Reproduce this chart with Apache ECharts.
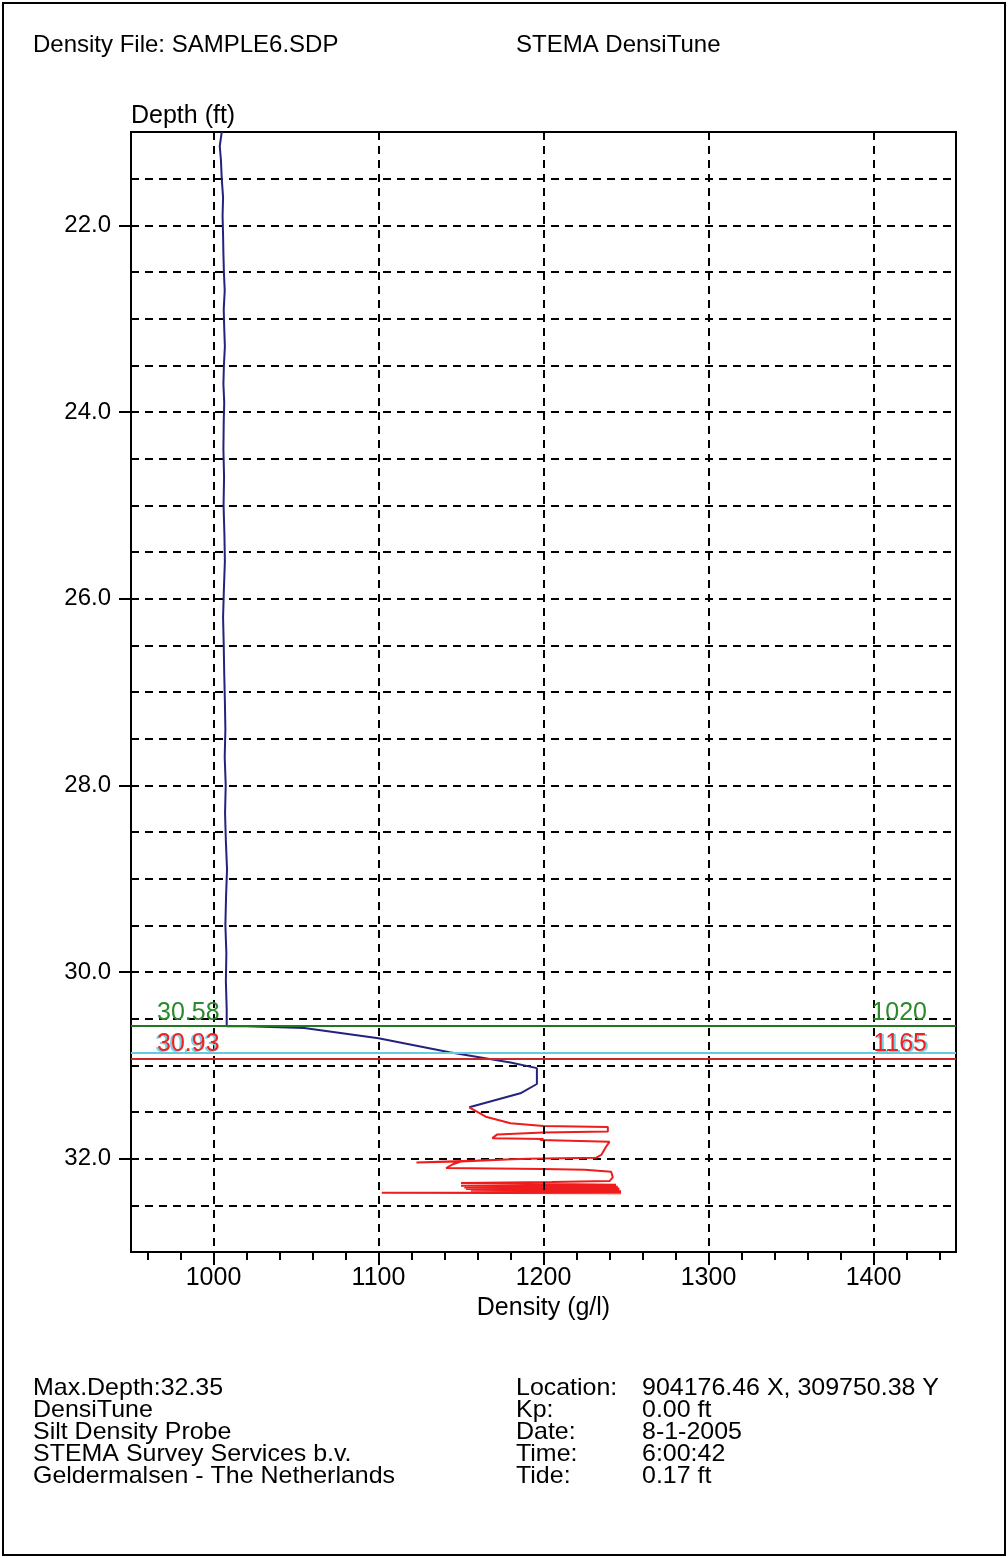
<!DOCTYPE html>
<html>
<head>
<meta charset="utf-8">
<script src="https://cdn.jsdelivr.net/npm/echarts@6/dist/echarts.min.js"></script>
<style>
  html, body { margin: 0; padding: 0; background: #fff; }
  #chart { width: 1008px; height: 1558px; }
</style>
</head>
<body>
<div id="chart"></div>
<script>
// profile above the silt (blue)
var depthTop = [21.0, 21.15, 21.3, 21.5, 21.7, 21.9, 22.1, 22.3, 22.5, 22.7, 22.9, 23.1, 23.3, 23.5, 23.7, 23.9,
  24.1, 24.4, 24.7, 25.0, 25.3, 25.6, 25.9, 26.2, 26.5, 26.8, 27.1, 27.4, 27.7, 28.0, 28.3, 28.6, 28.9,
  29.2, 29.5, 29.8, 30.1, 30.4, 30.58, 30.58, 30.6, 30.71, 30.86, 30.97, 31.03, 31.2, 31.3, 31.45];
var densityTop = [1005, 1003.8, 1004.5, 1005, 1005.8, 1005.5, 1005.8, 1006, 1006.3, 1006.8, 1006.2, 1006.5, 1006.9, 1006.3, 1006, 1006.5,
  1006.2, 1006, 1006.4, 1006.1, 1006.6, 1006.9, 1006.3, 1005.8, 1006.2, 1006.5, 1006.9, 1007.2, 1006.8, 1007.4, 1007, 1007.5, 1008.2,
  1007.6, 1007.2, 1007.8, 1007.5, 1008, 1008, 1020, 1055, 1100, 1143, 1180, 1196, 1196, 1186, 1155];

// profile in the silt layer (red)
var depthSilt = [31.45, 31.55, 31.62, 31.65, 31.66, 31.71, 31.72, 31.74, 31.78, 31.79, 31.8, 31.82, 31.87, 31.96, 31.99,
  32.0, 32.02, 32.04, 32.03, 32.01, 32.03, 32.06, 32.1, 32.11, 32.12, 32.14, 32.2, 32.24, 32.25, 32.26,
  32.28, 32.29, 32.3, 32.31, 32.32, 32.325, 32.335, 32.34, 32.35, 32.355, 32.36, 32.365, 32.37];
var densitySilt = [1155, 1165, 1180, 1200, 1239, 1239, 1200, 1172, 1169, 1200, 1198, 1240, 1238, 1235, 1232,
  1190, 1160, 1123, 1150, 1178, 1150, 1145, 1141, 1200, 1225, 1241, 1242, 1240, 1205, 1150,
  1244, 1150, 1245, 1152, 1246, 1153, 1246, 1156, 1247, 1160, 1247, 1102, 1247];

// marker levels
var levelTop = 30.58, levelTopDensity = "1020";
var levelCyan = 30.87;
var levelSilt = 30.93, levelSiltDensity = "1165";

var depthTicks = [22, 24, 26, 28, 30, 32];
var densityTicks = [1000, 1100, 1200, 1300, 1400];
var densityMinorTicks = [960, 980, 1000, 1020, 1040, 1060, 1080, 1100, 1120, 1140, 1160, 1180, 1200,
  1220, 1240, 1260, 1280, 1300, 1320, 1340, 1360, 1380, 1400, 1420, 1440];

var footLeft = ["Max.Depth:32.35", "DensiTune", "Silt Density Probe", "STEMA Survey Services b.v.", "Geldermalsen - The Netherlands"];
var footKeys = ["Location:", "Kp:", "Date:", "Time:", "Tide:"];
var footVals = ["904176.46 X, 309750.38 Y", "0.00 ft", "8-1-2005", "6:00:42", "0.17 ft"];

var FONT = "'Liberation Sans', Arial, sans-serif";

function zip(xs, ys) {
  var out = [];
  for (var i = 0; i < xs.length; i++) out.push([xs[i], ys[i]]);
  return out;
}

function txt(text, x, y, size, sx) {
  return {
    type: "text", x: x, y: y, scaleX: sx || 1,
    style: { text: text, fontSize: size, fontFamily: FONT, fill: "#000", textVerticalAlign: "middle" }
  };
}

var graphics = [
  { type: "rect", shape: { x: 3, y: 3, width: 1002, height: 1552 },
    style: { fill: "none", stroke: "#000", lineWidth: 2 } },
  txt("Density File: SAMPLE6.SDP", 33, 45, 24, 1.0),
  txt("STEMA DensiTune", 516, 45, 24, 1.0)
];
for (var i = 0; i < footLeft.length; i++) {
  var yy = 1388 + i * 22;
  graphics.push(txt(footLeft[i], 33, yy, 24, 1.04));
  graphics.push(txt(footKeys[i], 516, yy, 24, 1.04));
  graphics.push(txt(footVals[i], 642, yy, 24, 1.04));
}

var myChart = echarts.init(document.getElementById("chart"));
var dash = [8, 6];
var option = {
  animation: false,
  backgroundColor: "#fff",
  textStyle: { fontFamily: FONT },
  grid: {
    left: 131, top: 132, width: 825, height: 1120,
    show: true, borderColor: "#000", borderWidth: 2, backgroundColor: "transparent"
  },
  xAxis: [
    {
      type: "value", min: 950, max: 1450, interval: 10,
      name: "Density (g/l)", nameLocation: "middle", nameGap: 38,
      nameTextStyle: { fontSize: 25, color: "#000", fontFamily: FONT },
      axisLine: { show: true, lineStyle: { color: "#000", width: 2 } },
      axisTick: { show: true, length: 8, customValues: densityMinorTicks, lineStyle: { color: "#000", width: 2 } },
      axisLabel: {
        customValues: densityTicks, fontSize: 25, color: "#000", margin: 14, fontFamily: FONT,
        formatter: function (v) { return String(v); }
      },
      splitLine: { show: false }
    },
    {
      type: "value", min: 950, max: 1450, interval: 10, position: "bottom",
      axisLine: { show: false },
      axisTick: { show: true, length: 13, customValues: densityTicks, lineStyle: { color: "#000", width: 2 } },
      axisLabel: { show: false },
      splitLine: { show: false }
    }
  ],
  yAxis: [
    {
      type: "value", inverse: true, min: 21, max: 33, interval: 0.5,
      name: "Depth (ft)", nameLocation: "start", nameGap: 3,
      nameTextStyle: { fontSize: 25, color: "#000", align: "left", verticalAlign: "bottom", fontFamily: FONT },
      axisLine: { show: true, lineStyle: { color: "#000", width: 2 } },
      axisTick: { show: true, length: 12, customValues: depthTicks, lineStyle: { color: "#000", width: 2 } },
      axisLabel: {
        customValues: depthTicks, fontSize: 24, color: "#000", margin: 20, fontFamily: FONT,
        formatter: function (v) { return v.toFixed(1); }
      },
      splitLine: { show: false }
    },
    {
      // horizontal grid every half foot
      type: "value", inverse: true, min: 21, max: 33, interval: 0.5, position: "left",
      axisLine: { show: false }, axisTick: { show: false }, axisLabel: { show: false },
      splitLine: { show: true, lineStyle: { color: "#000", width: 2, type: dash } }
    }
  ],
  graphic: graphics,
  series: [
    {
      // vertical grid lines
      type: "line", data: [], z: 1, silent: true,
      markLine: {
        symbol: "none", silent: true, animation: false,
        label: { show: false },
        lineStyle: { color: "#000", width: 2, type: dash },
        data: densityTicks.map(function (v) { return { xAxis: v }; })
      }
    },
    {
      // level markers
      type: "line", data: [], z: 2, silent: true,
      markLine: {
        symbol: "none", silent: true, animation: false,
        data: [
          { yAxis: levelTop, lineStyle: { color: "#217821", width: 2, type: "solid" },
            label: { show: true, position: "insideStartTop", distance: [26, 1], formatter: String(levelTop),
              color: "#2b8a2b", fontSize: 25, fontFamily: FONT } },
          { yAxis: levelTop, lineStyle: { color: "#217821", width: 2, type: "solid" },
            label: { show: true, position: "insideEndTop", distance: [29, 1], formatter: levelTopDensity,
              color: "#2b8a2b", fontSize: 25, fontFamily: FONT } },
          { yAxis: levelCyan, lineStyle: { color: "#66ccdd", width: 2, type: "solid" },
            label: { show: true, position: "insideStartTop", distance: [24, -4], formatter: levelSilt.toFixed(2),
              color: "#7ccfe0", fontSize: 25, fontFamily: FONT } },
          { yAxis: levelCyan, lineStyle: { color: "#66ccdd", width: 2, type: "solid" },
            label: { show: true, position: "insideEndTop", distance: [27, -4], formatter: levelSiltDensity,
              color: "#7ccfe0", fontSize: 25, fontFamily: FONT } },
          { yAxis: levelSilt, lineStyle: { color: "#c82828", width: 2, type: "solid" },
            label: { show: true, position: "insideStartTop", distance: [26, 2], formatter: levelSilt.toFixed(2),
              color: "#ee2222", fontSize: 25, fontFamily: FONT } },
          { yAxis: levelSilt, lineStyle: { color: "#c82828", width: 2, type: "solid" },
            label: { show: true, position: "insideEndTop", distance: [29, 2], formatter: levelSiltDensity,
              color: "#ee2222", fontSize: 25, fontFamily: FONT } }
        ]
      }
    },
    {
      name: "water", type: "line", z: 3,
      data: zip(densityTop, depthTop),
      symbol: "none", showSymbol: false,
      lineStyle: { color: "#23237f", width: 2 }
    },
    {
      name: "silt", type: "line", z: 3,
      data: zip(densitySilt, depthSilt),
      symbol: "none", showSymbol: false,
      lineStyle: { color: "#ee1c1c", width: 2 }
    }
  ]
};
myChart.setOption(option);
window.onresize = function () {
  myChart.resize();
};
</script>
</body>
</html>
